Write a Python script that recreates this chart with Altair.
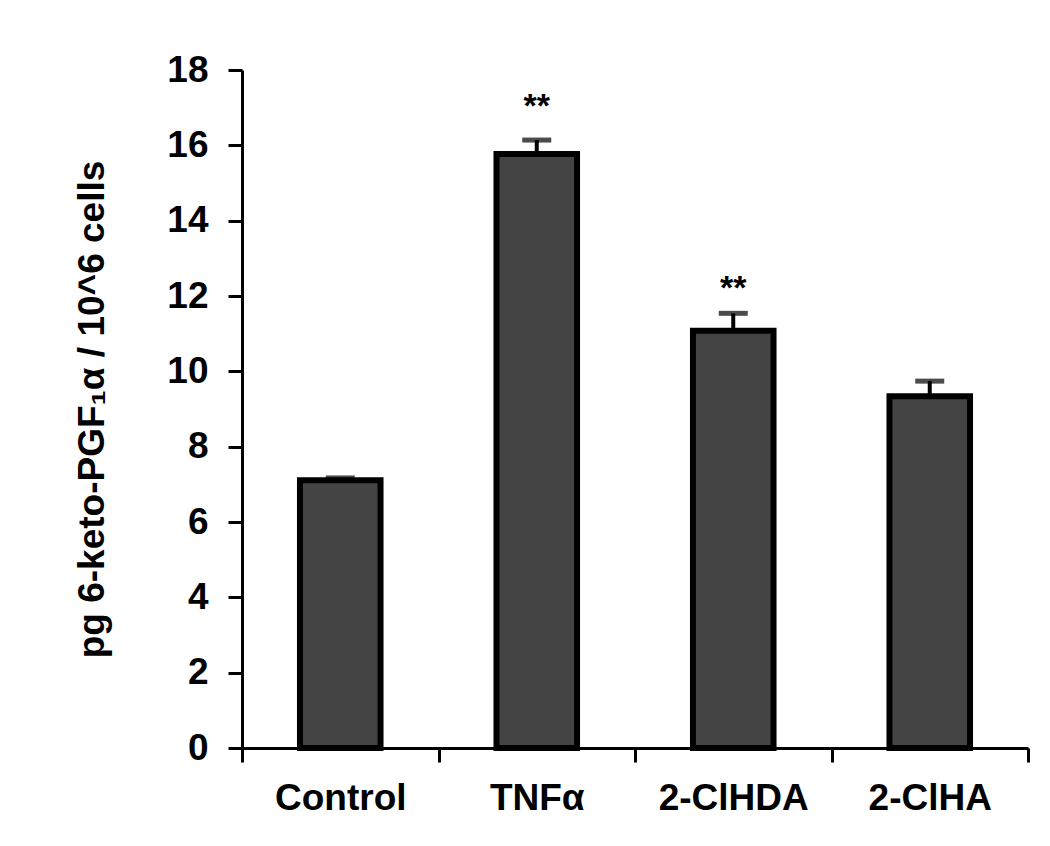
import altair as alt
import pandas as pd

categories = ["Control", "TNFα", "2-ClHDA", "2-ClHA"]
means = [7.11, 15.77, 11.08, 9.34]
upper = [7.17, 16.14, 11.54, 9.74]
star_labels = ["**", "**"]
star_cats = ["TNFα", "2-ClHDA"]
star_y = [17.26, 12.42]
y_ticks = [0, 2, 4, 6, 8, 10, 12, 14, 16, 18]

df = pd.DataFrame({"cat": categories, "mean": means, "upper": upper})
sdf = pd.DataFrame({"cat": star_cats, "label": star_labels, "y": star_y})

FONT = "Liberation Sans"
W, H = 786, 678

x = alt.X(
    "cat:N",
    sort=categories,
    scale=alt.Scale(paddingInner=0, paddingOuter=0),
    axis=alt.Axis(
        title=None, tickBand="extent", labelAngle=0, labelFont=FONT,
        labelFontSize=37, labelFontWeight="bold", labelColor="black",
        labelPadding=18, tickSize=14, tickWidth=3, tickColor="black",
        domainWidth=3, domainColor="black", grid=False,
    ),
)
yscale = alt.Scale(domain=[0, 18], nice=False)

bars = alt.Chart(df).mark_bar(
    fill="#444444", stroke="black", strokeWidth=6,
    width=alt.RelativeBandSize(0.41),
).encode(
    x=x,
    y=alt.Y(
        "mean:Q", scale=yscale,
        axis=alt.Axis(
            values=y_ticks, title="pg 6-keto-PGF₁α / 10^6 cells",
            titleFont=FONT, titleFontSize=37, titleFontWeight="bold",
            titleColor="black", titleAngle=270, titleAlign="center",
            titleBaseline="middle", titleX=-150, titleY=H / 2,
            labelFont=FONT, labelFontSize=37, labelFontWeight="bold",
            labelColor="black", labelPadding=20, tickSize=14, tickWidth=3,
            tickColor="black", domainWidth=3, domainColor="black", grid=False,
        ),
    ),
)

stems = alt.Chart(df).mark_rule(color="black", strokeWidth=4).encode(
    x=alt.X("cat:N", sort=categories),
    y=alt.Y("mean:Q", scale=yscale),
    y2="upper:Q",
)

caps = alt.Chart(df).mark_tick(
    color="black", orient="horizontal", size=29, thickness=5
).encode(
    x=alt.X("cat:N", sort=categories),
    y=alt.Y("upper:Q", scale=yscale),
)

stars = alt.Chart(sdf).mark_text(
    font=FONT, fontSize=34, fontWeight="bold", baseline="alphabetic",
    dy=19, color="black",
).encode(
    x=alt.X("cat:N", sort=categories),
    y=alt.Y("y:Q", scale=yscale),
    text="label:N",
)

chart = alt.layer(bars, stems, caps, stars).properties(
    width=W, height=H,
    padding={"left": 234, "top": 62, "right": 14, "bottom": 90},
    autosize=alt.AutoSizeParams(type="none"),
).configure_view(stroke=None)

chart.save("out.html", embed_options={"renderer": "svg", "actions": False})
